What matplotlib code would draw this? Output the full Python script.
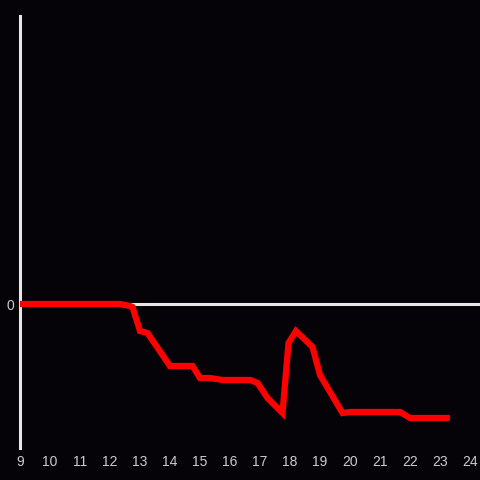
import matplotlib
matplotlib.use("Agg")
import matplotlib.pyplot as plt

hours = [9, 12.33, 12.67, 12.75, 13.0, 13.25, 13.75, 14.0, 14.75, 15.0, 15.33, 15.75,
         16.67, 16.92, 17.25, 17.75, 17.95, 18.2, 18.75, 19.0, 19.75, 20.0, 21.67, 22.0, 23.33]
values = [0, 0, -0.2, -0.3, -2.7, -2.9, -5.1, -6.2, -6.2, -7.4, -7.4, -7.6,
          -7.6, -7.9, -9.4, -10.9, -3.9, -2.7, -4.3, -7.1, -10.9, -10.8, -10.8, -11.4, -11.4]
xticks = list(range(9, 25))

bg = "#050307"
fig = plt.figure(figsize=(4.8, 4.8), dpi=100, facecolor=bg)
ax = fig.add_axes([20/480, 32/480, 460/480, 432/480], facecolor=bg)

ax.axhline(0, color="#e6e6e6", lw=2.2, zorder=1)
ax.plot(hours, values, color="#ff0000", lw=4.5, zorder=3, solid_joinstyle="miter", solid_capstyle="butt")

ax.set_xlim(9, 9 + 460/30)
ax.set_ylim(-14.4, 28.8)
ax.set_xticks(xticks)
ax.set_xticklabels([str(t) for t in xticks])
ax.set_yticks([0])
ax.set_yticklabels(["0"])

for s in ["top", "right", "bottom"]:
    ax.spines[s].set_visible(False)
ax.spines["left"].set_color("#e6e6e6")
ax.spines["left"].set_linewidth(2.2)
ax.tick_params(axis="both", length=0, colors="#cccccc", labelsize=10)
ax.tick_params(axis="x", pad=5)
ax.tick_params(axis="y", pad=4)
for lab in ax.get_xticklabels() + ax.get_yticklabels():
    lab.set_fontfamily("Liberation Sans")

fig.savefig("out.png", dpi=100, facecolor=bg)
